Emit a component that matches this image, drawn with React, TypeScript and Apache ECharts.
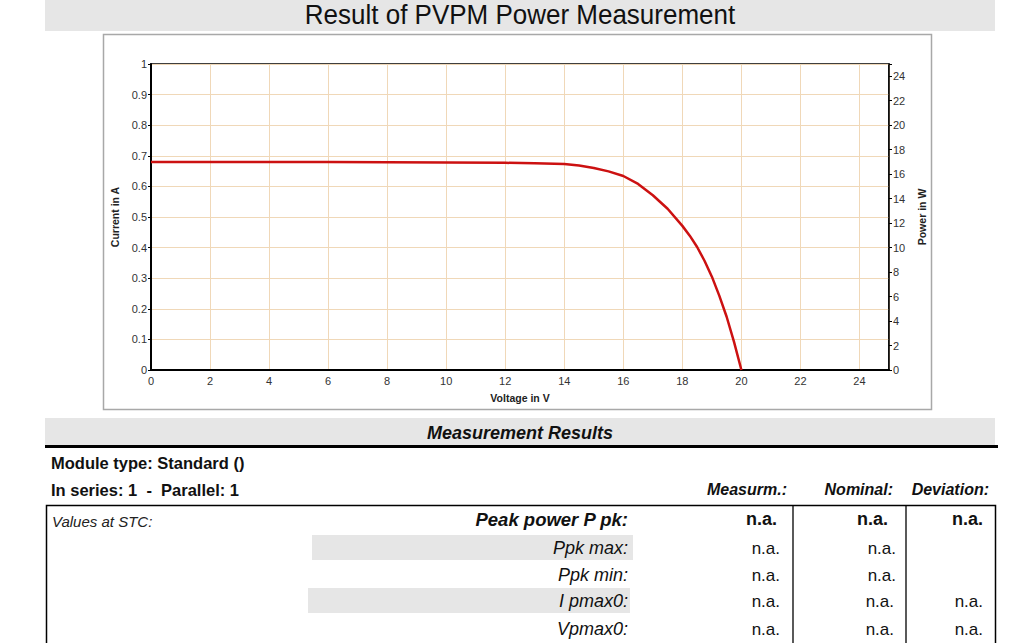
import React, { useEffect, useRef } from "react";
import * as echarts from "echarts";

const voltage = [0, 2, 4, 6, 8, 10, 12, 13, 14, 14.5, 15, 15.5, 16, 16.5, 17, 17.5, 18, 18.25, 18.5, 18.75, 19, 19.25, 19.5, 19.75, 20];
const current = [0.68, 0.68, 0.68, 0.68, 0.679, 0.678, 0.677, 0.676, 0.673, 0.668, 0.66, 0.649, 0.634, 0.608, 0.571, 0.527, 0.471, 0.439, 0.402, 0.357, 0.305, 0.243, 0.174, 0.092, 0];

const title = "Result of PVPM Power Measurement";
const sectionTitle = "Measurement Results";
const moduleType = "Module type: Standard ()";
const seriesInfo = "In series: 1  -  Parallel: 1";
const columnHeaders = ["Measurm.:", "Nominal:", "Deviation:"];
const rowLabels = ["Peak power P pk:", "Ppk max:", "Ppk min:", "I pmax0:", "Vpmax0:"];
const rowValues = [
  ["n.a.", "n.a.", "n.a."],
  ["n.a.", "n.a.", ""],
  ["n.a.", "n.a.", ""],
  ["n.a.", "n.a.", "n.a."],
  ["n.a.", "n.a.", "n.a."],
];

const FONT = "'Liberation Sans', Arial, sans-serif";

export default function App() {
  const ref = useRef<HTMLDivElement>(null);
  useEffect(() => {
    if (!ref.current) return;
    const chart = echarts.init(ref.current, undefined, { renderer: "svg" });
    const data = voltage.map((v, i) => [v, current[i]]);

    const graphics: any[] = [];
    graphics.push({ type: "rect", z: -10, shape: { x: 45, y: 0, width: 950, height: 31 }, style: { fill: "#e6e6e6" } });
    graphics.push({ type: "text", x: 520, y: 15, scaleY: 1.05, style: { text: title, font: `26px ${FONT}`, fill: "#111", align: "center", verticalAlign: "middle" } });
    graphics.push({ type: "rect", z: -10, shape: { x: 103.5, y: 34.5, width: 828, height: 375 }, style: { fill: "#fff", stroke: "#a8a8a8", lineWidth: 1.5 } });
    graphics.push({ type: "rect", z: -10, shape: { x: 45, y: 418, width: 950, height: 27 }, style: { fill: "#e6e6e6" } });
    graphics.push({ type: "line", shape: { x1: 45, y1: 446.5, x2: 998, y2: 446.5 }, style: { stroke: "#000", lineWidth: 3 } });
    graphics.push({ type: "text", x: 520, y: 433, style: { text: sectionTitle, font: `italic bold 18px ${FONT}`, fill: "#111", align: "center", verticalAlign: "middle" } });
    graphics.push({ type: "text", x: 51, y: 463, style: { text: moduleType, font: `bold 16.5px ${FONT}`, fill: "#111", align: "left", verticalAlign: "middle" } });
    graphics.push({ type: "text", x: 51, y: 490, style: { text: seriesInfo, font: `bold 16.5px ${FONT}`, fill: "#111", align: "left", verticalAlign: "middle" } });
    const headerX = [787, 893, 989];
    columnHeaders.forEach((h, i) => {
      graphics.push({ type: "text", x: headerX[i], y: 489, style: { text: h, font: `italic bold 16px ${FONT}`, fill: "#111", align: "right", verticalAlign: "middle" } });
    });
    graphics.push({ type: "rect", shape: { x: 46.5, y: 505.5, width: 949, height: 160 }, style: { fill: "none", stroke: "#000", lineWidth: 1.5 } });
    graphics.push({ type: "line", shape: { x1: 793, y1: 505, x2: 793, y2: 643 }, style: { stroke: "#000", lineWidth: 1.3 } });
    graphics.push({ type: "line", shape: { x1: 906, y1: 505, x2: 906, y2: 643 }, style: { stroke: "#000", lineWidth: 1.3 } });
    graphics.push({ type: "text", x: 52, y: 521, style: { text: "Values at STC:", font: `italic 15px ${FONT}`, fill: "#222", align: "left", verticalAlign: "middle" } });
    graphics.push({ type: "rect", z: -10, shape: { x: 312, y: 535, width: 321, height: 25 }, style: { fill: "#e6e6e6" } });
    graphics.push({ type: "rect", z: -10, shape: { x: 308, y: 588, width: 322, height: 25 }, style: { fill: "#e6e6e6" } });
    const rowY = [519, 548, 575, 601, 629];
    const valX = [[777, 888, 983], [780, 896, 0], [780, 896, 0], [780, 894, 983], [780, 894, 983]];
    rowLabels.forEach((lab, r) => {
      const first = r === 0;
      graphics.push({ type: "text", x: 628, y: rowY[r], style: { text: lab, font: first ? `italic bold 18.5px ${FONT}` : `italic 18px ${FONT}`, fill: "#111", align: "right", verticalAlign: "middle" } });
      rowValues[r].forEach((v, c) => {
        if (!v) return;
        graphics.push({ type: "text", x: valX[r][c], y: rowY[r], style: { text: v, font: first ? `bold 18px ${FONT}` : `17px ${FONT}`, fill: "#111", align: "right", verticalAlign: "middle" } });
      });
    });

    const axisLabel = { color: "#333", fontSize: 11, fontFamily: FONT };
    chart.setOption({
      animation: false,
      backgroundColor: "#fff",
      grid: { left: 151, top: 64, width: 738, height: 306, show: true, borderColor: "#000", borderWidth: 1.5, backgroundColor: "#fff" },
      xAxis: {
        type: "value",
        min: 0,
        max: 25,
        interval: 2,
        name: "Voltage in V",
        nameLocation: "middle",
        nameGap: 22,
        nameTextStyle: { color: "#222", fontSize: 10.5, fontWeight: "bold", fontFamily: FONT },
        axisLine: { show: true, onZero: false, lineStyle: { color: "#000", width: 2 } },
        axisTick: { show: false },
        axisLabel: { ...axisLabel, margin: 5, formatter: (v: number) => (v > 24 ? "" : String(v)) },
        splitLine: { show: true, lineStyle: { color: "#f0d8b8", width: 1 } },
      },
      yAxis: [
        {
          type: "value",
          min: 0,
          max: 1,
          interval: 0.1,
          name: "Current in A",
          nameLocation: "middle",
          nameGap: 30,
          nameTextStyle: { color: "#222", fontSize: 10.5, fontWeight: "bold", fontFamily: FONT },
          axisLine: { show: true, lineStyle: { color: "#000", width: 2 } },
          axisTick: { show: true, length: 3, lineStyle: { color: "#000" } },
          axisLabel: { ...axisLabel, margin: 4 },
          splitLine: { show: true, lineStyle: { color: "#f0d8b8", width: 1 } },
        },
        {
          type: "value",
          position: "right",
          min: 0,
          max: 25,
          interval: 2,
          name: "Power in W",
          nameLocation: "middle",
          nameGap: 24,
          nameRotate: 90,
          nameTextStyle: { color: "#222", fontSize: 10.5, fontWeight: "bold", fontFamily: FONT },
          axisLine: { show: true, lineStyle: { color: "#000", width: 1.5 } },
          axisTick: { show: true, length: 3, lineStyle: { color: "#000" } },
          axisLabel: { ...axisLabel, margin: 4, formatter: (v: number) => (v > 24 ? "" : String(v)) },
          splitLine: { show: false },
        },
      ],
      series: [
        {
          type: "line",
          name: "Current",
          data,
          yAxisIndex: 0,
          smooth: false,
          showSymbol: false,
          lineStyle: { color: "#cc1111", width: 2.5, join: "round" },
        },
      ],
      graphic: graphics,
    });
    return () => chart.dispose();
  }, []);
  return <div ref={ref} style={{ position: "absolute", left: 0, top: 0, width: 1024, height: 643 }} />;
}
